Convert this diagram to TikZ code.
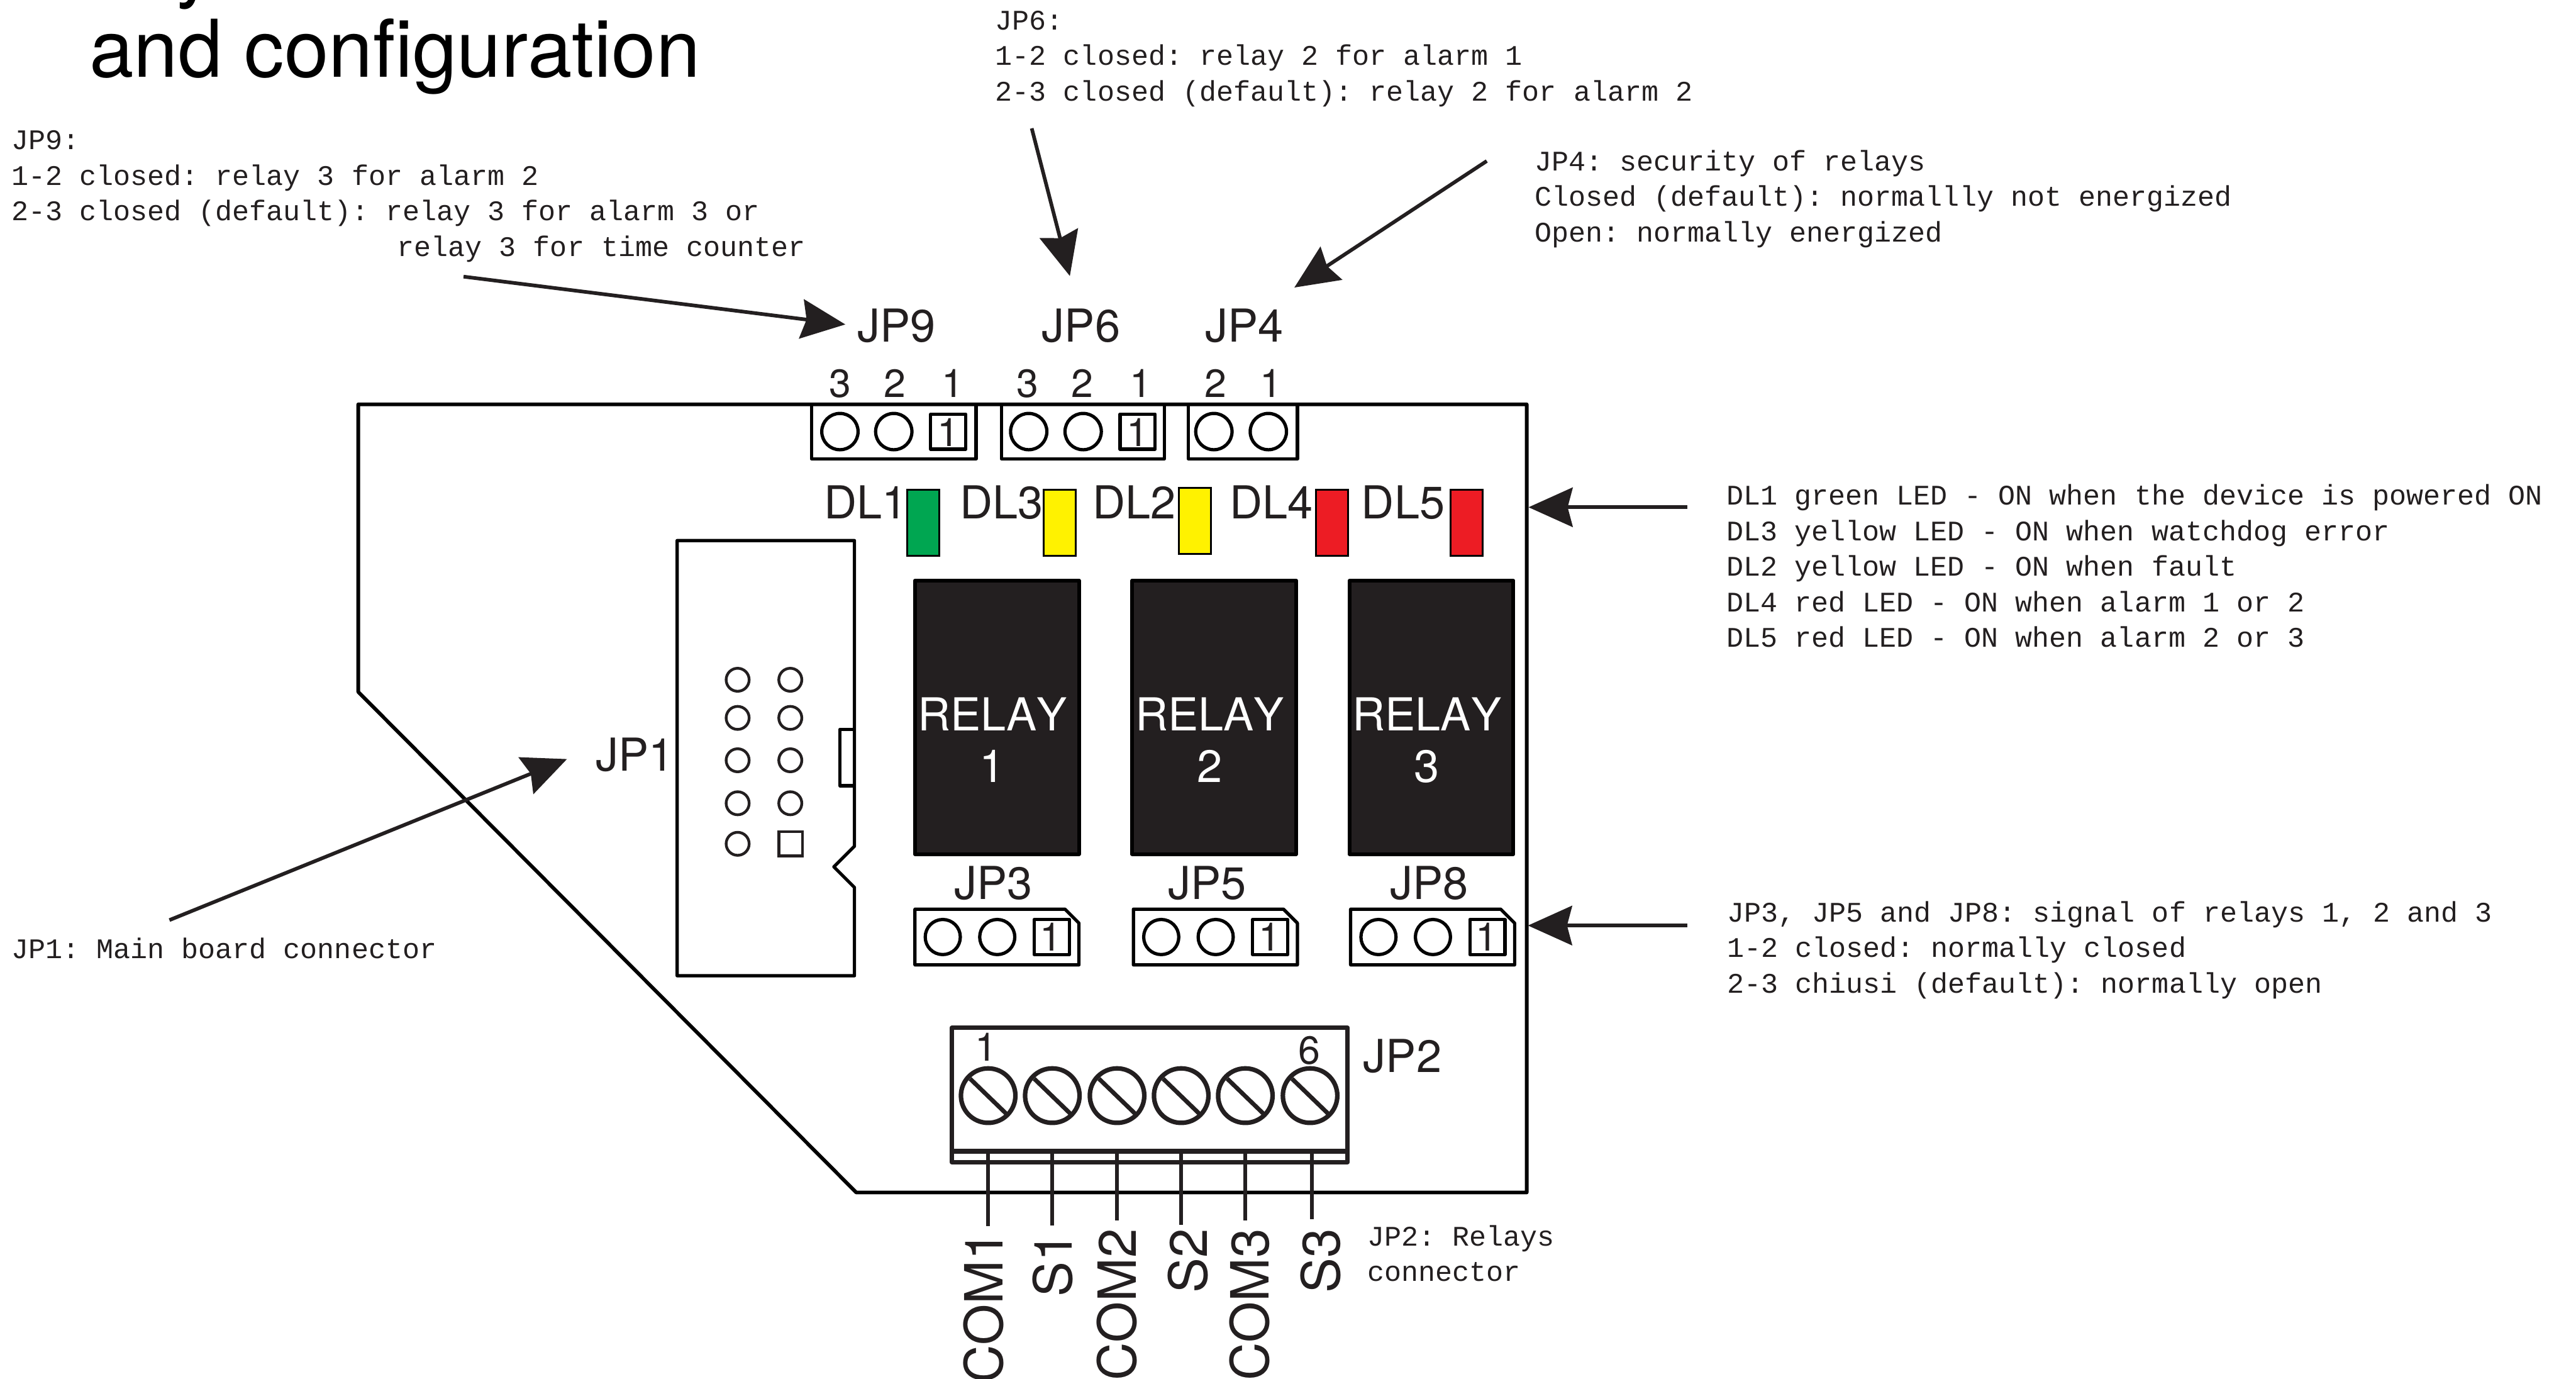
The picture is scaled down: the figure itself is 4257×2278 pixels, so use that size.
\documentclass[tikz,border=0pt]{standalone}
\usepackage{fontspec}
\setmainfont{TeX Gyre Heros}
\newfontfamily\monof{Liberation Mono}
\newfontfamily\relayf[Kerning=Off]{TeX Gyre Heros}
\usetikzlibrary{arrows.meta}
\definecolor{ink}{HTML}{231F20}
\definecolor{ledg}{HTML}{00A651}
\definecolor{ledy}{HTML}{FFF200}
\definecolor{ledr}{HTML}{ED1C24}
\tikzset{
  x=0.24pt,y=-0.24pt,
  every node/.style={inner sep=0pt,outer sep=0pt,text=ink},
  lbl/.style={anchor=base west,font=\fontsize{18}{20}\selectfont},
  pinnum/.style={anchor=base,font=\fontsize{15.6}{18}\selectfont},
  relaytxt/.style={anchor=base,text=white,font=\relayf\fontsize{18}{20}\selectfont},
  mono/.style={anchor=north west,align=left,font=\monof\fontsize{11.24}{14.09}\selectfont\frenchspacing},
  wire/.style={rotate=90,anchor=base east,font=\fontsize{20.9}{24}\selectfont},
  board/.style={draw=black,line width=1.45pt,line join=round,fill=none},
  part/.style={draw=black,line width=1.3pt,line join=round},
  terminal/.style={draw=ink,line width=1.8pt,line join=round},
  pin/.style={draw=ink,line width=1.1pt},
  lead/.style={draw=ink,line width=1.45pt},
  led/.style={draw=black,line width=0.7pt},
  relaybox/.style={draw=black,fill=ink,line width=1.5pt,line join=round},
  callout/.style={draw=ink,line width=1.45pt,-{Stealth[length=17.5pt,width=15.6pt,inset=2pt]}},
}
\begin{document}
\begin{tikzpicture}
\useasboundingbox (0,0) rectangle (4257,2278);
\clip (0,0) rectangle (4257,2278);
% title
\node[anchor=base west,font=\fontsize{31.6}{36}\selectfont,text=black] (title0) at (291,-13) {y};
\node[anchor=base west,font=\fontsize{31.6}{36}\selectfont,text=black] (title) at (148,127) {and configuration};
% board
\draw[board] (592,668) -- (2523,668) -- (2523,1970) -- (1415,1970) -- (592,1143) -- cycle;
% top jumpers
\draw[part] (1341,668) rectangle (1613,758);
\draw[part] (1655,668) rectangle (1924,758);
\draw[part] (1964,668) rectangle (2144,758);
\foreach \cx in {1388,1477,1700,1790,2006,2096}
  \draw[part] (\cx,713) circle[radius=30];
\foreach \cx in {1567,1880}{
  \draw[part] (\cx-29,684) rectangle (\cx+29,742);
  \node[pinnum] at (\cx,737) {1};
}
\foreach \cx/\t in {1388/3,1479/2,1574/1,1698/3,1789/2,1885/1,2009/2,2100/1}
  \node[pinnum] at (\cx,656) {\t};
\node[lbl] (jp9) at (1417,565) {JP9};
\node[lbl] (jp6) at (1722,565) {JP6};
\node[lbl] (jp4) at (1992,565) {JP4};
% LEDs
\foreach \lx/\ly/\c in {1499/809/ledg,1725/809/ledy,1948/806/ledy,2175/809/ledr,2397/809/ledr}
  \draw[led,fill=\c] (\lx,\ly) rectangle +(53,109);
\node[lbl] (dl1) at (1362,857) {DL1};
\node[lbl] (dl3) at (1586,857) {DL3};
\node[lbl] (dl2) at (1806,857) {DL2};
\node[lbl] (dl4) at (2032,857) {DL4};
\node[lbl] (dl5) at (2250,857) {DL5};
% relays
\foreach \rx/\t in {1512/1,1871/2,2230/3}{
  \draw[relaybox] (\rx,959) rectangle +(271,452);
  \node[relaytxt] at (\rx+128,1207) {RELAY};
  \node[relaytxt] at (\rx+128,1292) {\t};
}
% JP1 connector
\draw[part] (1119,893) -- (1412,893) -- (1412,1398) -- (1378,1432) -- (1412,1466) -- (1412,1612) -- (1119,1612) -- cycle;
\draw[part] (1412,1205) -- (1388,1205) -- (1388,1298) -- (1412,1298);
\foreach \py in {1123,1186,1256,1327}{
  \draw[pin] (1219,\py) circle[radius=19];
  \draw[pin] (1306,\py) circle[radius=19];
}
\draw[pin] (1219,1394) circle[radius=19];
\draw[pin] (1287,1374) rectangle (1326,1414);
\node[lbl] (jp1) at (985,1274) {JP1};
% signal jumpers
\foreach \dx/\lx/\n in {0/1577/3,361/1930/5,720/2297/8}{
  \draw[part] (1512+\dx,1502) -- (1760+\dx,1502) -- (1783+\dx,1525) -- (1783+\dx,1594) -- (1512+\dx,1594) -- cycle;
  \draw[part] (1558+\dx,1548) circle[radius=29];
  \draw[part] (1648+\dx,1548) circle[radius=29];
  \draw[part] (1709+\dx,1519) rectangle (1767+\dx,1577);
  \node[pinnum] at (1737+\dx,1571) {1};
  \node[lbl] at (\lx,1486) {JP\n};
}
% JP2 terminal
\draw[terminal] (1573,1698) rectangle (2227,1902);
\draw[terminal] (1573,1902) rectangle (2227,1920);
\foreach \sx in {1633,1739,1846,1952,2058,2165}{
  \draw[terminal] (\sx,1810) circle[radius=45];
  \draw[pin,line width=1.7pt] (\sx-30,1782) -- (\sx+30,1840);
}
\foreach \sx/\ey in {1633/2026,1739/2025,1846/2016,1952/2024,2058/2016,2168/2014}
  \draw[lead] (\sx,1905) -- (\sx,\ey);
\node[pinnum] at (1630,1753) {1};
\node[pinnum] at (2164,1758) {6};
\node[lbl] (jp2) at (2253,1771) {JP2};
\node[wire] at (1657,2034) {COM1};
\node[wire] at (1772,2036) {S1};
\node[wire] at (1877,2030) {COM2};
\node[wire] at (1995,2030) {S2};
\node[wire] at (2097,2030) {COM3};
\node[wire] at (2214,2030) {S3};
% notes
\node[mono] (n9) at (19,206) {\strut JP9:\\1-2 closed: relay 3 for alarm 2\\2-3 closed (default): relay 3 for alarm 3 or\\\hspace*{153pt}relay 3 for time counter};
\node[mono] (n6) at (1645,8) {\strut JP6:\\1-2 closed: relay 2 for alarm 1\\2-3 closed (default): relay 2 for alarm 2};
\node[mono] (n4) at (2536,241) {\strut JP4: security of relays\\Closed (default): normallly not energized\\Open: normally energized};
\node[mono] (ndl) at (2853,793) {\strut DL1 green LED - ON when the device is powered ON\\DL3 yellow LED - ON when watchdog error\\DL2 yellow LED - ON when fault\\DL4 red LED - ON when alarm 1 or 2\\DL5 red LED - ON when alarm 2 or 3};
\node[mono] (nsig) at (2854,1482) {\strut JP3, JP5 and JP8: signal of relays 1, 2 and 3\\1-2 closed: normally closed\\2-3 chiusi (default): normally open};
\node[mono] (n1) at (19,1542) {\strut JP1: Main board connector};
\node[mono] (n2) at (2260,2017) {\strut JP2: Relays\\connector};
% callouts
\coordinate (a9s) at (766,457); \coordinate (a9e) at (1397,536);
\coordinate (a6s) at (1705,212); \coordinate (a6e) at (1768,456);
\coordinate (a4s) at (2457,266); \coordinate (a4e) at (2139,475);
\coordinate (adls) at (2788,838); \coordinate (adle) at (2526,838);
\coordinate (asigs) at (2788,1529); \coordinate (asige) at (2525,1529);
\coordinate (a1s) at (280,1520); \coordinate (a1e) at (937,1254);
\foreach \s/\e in {a9s/a9e,a6s/a6e,a4s/a4e,adls/adle,asigs/asige,a1s/a1e}
  \draw[callout] (\s) -- (\e);
\end{tikzpicture}
\end{document}
